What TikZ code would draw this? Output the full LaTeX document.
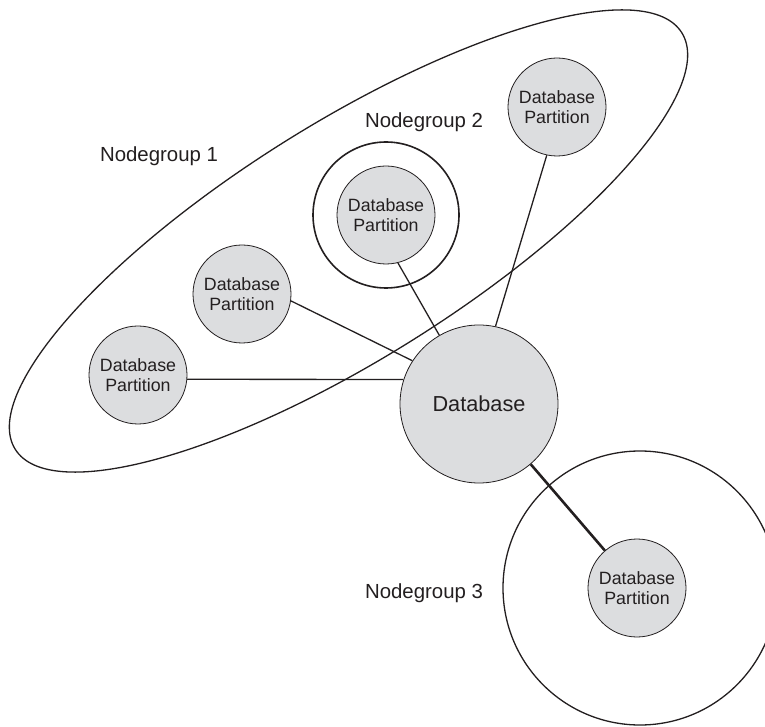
\documentclass[tikz,border=0pt]{standalone}
\usepackage{fontspec}
\setmainfont{Liberation Sans}
\usetikzlibrary{calc}
\definecolor{partfill}{RGB}{220,221,223}
\definecolor{inkline}{RGB}{35,31,32}
\begin{document}
\begin{tikzpicture}[x=1pt,y=1pt,
  partition/.style={circle, draw=inkline, line width=0.8pt, fill=partfill,
    minimum size=98pt, inner sep=0pt, align=center, text=inkline,
    font=\fontsize{17.8}{20.7}\selectfont},
  dbnode/.style={circle, draw=inkline, line width=0.8pt, fill=partfill,
    minimum size=158pt, inner sep=0pt, text=inkline,
    font=\fontsize{21.7}{24}\selectfont},
  grouplabel/.style={text=inkline, font=\fontsize{20.4}{24}\selectfont},
  groupline/.style={draw=inkline, line width=1.3pt},
  link/.style={draw=inkline, line width=1.3pt},
  heavylink/.style={draw=inkline, line width=2.6pt}]
\useasboundingbox (0,0) rectangle (765,726);
\clip (0,0) rectangle (765,726);

% group outlines
\draw[groupline] (348.5,485) ellipse[x radius=393, y radius=118, rotate=32];
\draw[groupline, line width=1.6pt] (386,511) circle[radius=73];
\draw[groupline] (640,138) circle[radius=137];

% database and its partitions
\node[dbnode] (db) at (479,322) {Database};
\node[partition] (p1) at (557,619) {Database\\Partition};
\node[partition] (p2) at (386,511) {Database\\Partition};
\node[partition] (pA) at (242,432) {Database\\Partition};
\node[partition] (pB) at (138,351) {Database\\Partition};
\node[partition] (p3) at (637,138) {Database\\Partition};

% connections
\draw[link] (pB.-5) -- (db.162);
\draw[link] (pA.-8) -- (db.147);
\draw[link] (p2.-76) -- (db.120);
\draw[link] (p1.-102) -- (db.78);
\draw[heavylink] (db) -- (p3);

% group labels
\node[grouplabel] (ng1) at (159,570) {Nodegroup 1};
\node[grouplabel] (ng2) at (424,604) {Nodegroup 2};
\node[grouplabel] (ng3) at (424,133) {Nodegroup 3};
\end{tikzpicture}
\end{document}
